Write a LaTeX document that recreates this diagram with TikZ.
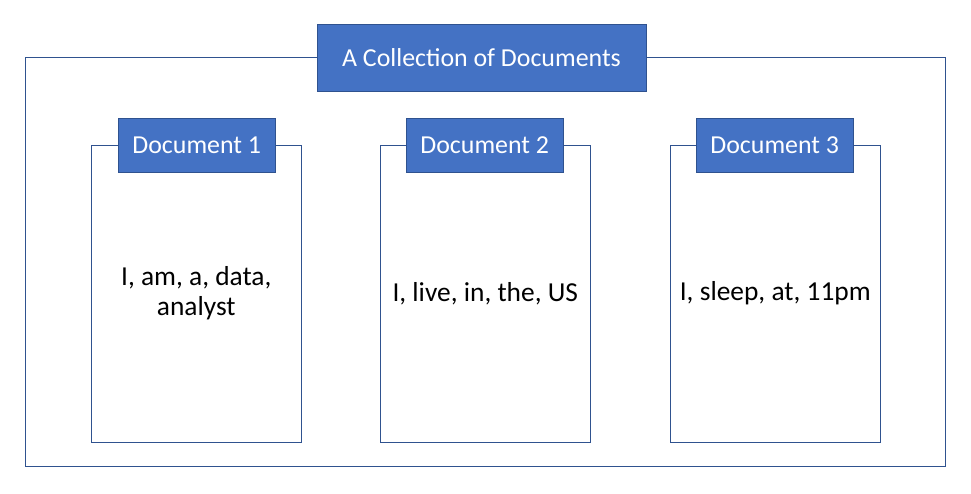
\documentclass[tikz,border=0pt]{standalone}
\usepackage{fontspec}
\setmainfont{Carlito}
\usepackage{tikz}
\definecolor{hdrblue}{HTML}{4472C4}
\definecolor{lineblue}{HTML}{2F528F}
\tikzset{
    header/.style={rectangle, draw=lineblue, line width=0.8pt, fill=hdrblue, text=white, font=\fontsize{22}{26}\selectfont, inner sep=0pt},
    docbody/.style={rectangle, draw=lineblue, line width=0.8pt, fill=white, minimum width=178.5pt, minimum height=252.5pt, align=center, font=\fontsize{23.3}{25.5}\selectfont, inner sep=0pt}
}

\begin{document}
\begin{tikzpicture}[x=0.85pt, y=-0.85pt]
        \useasboundingbox (0,0) rectangle (971,493);

        % Frame
        \node[rectangle, draw=lineblue, line width=0.8pt, minimum width=782pt, minimum height=347.6pt, inner sep=0pt] (frame) at (485, 261.75) {};
        \node[header, minimum width=279.6pt, minimum height=57pt] (title) at (481.5, 57.5) {A Collection of Documents};

        % Documents
        \node[docbody] (body1) at (196.25, 293.5) {I, am, a, data,\\analyst};
        \node[docbody] (body2) at (485.25, 293.5) {I, live, in, the, US};
        \node[docbody] (body3) at (775.25, 293.5) {I, sleep, at, 11pm};

        \node[header, minimum width=133.5pt, minimum height=46pt] (head1) at (196.75, 145.25) {Document 1};
        \node[header, minimum width=133.5pt, minimum height=46pt] (head2) at (484.75, 145.25) {Document 2};
        \node[header, minimum width=133.5pt, minimum height=46pt] (head3) at (774.75, 145.25) {Document 3};

    \end{tikzpicture}
\end{document}
